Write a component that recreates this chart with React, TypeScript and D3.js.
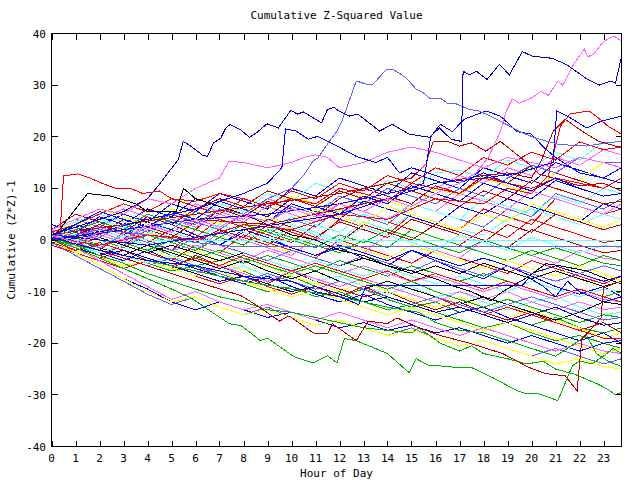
import React from 'react';
import * as d3 from 'd3';

// ---------- axes / labels ----------
const TITLE = 'Cumulative Z-Squared Value';
const X_LABEL = 'Hour of Day';
const Y_LABEL = 'Cumulative (Z*Z)-1';
const X_TICKS = d3.range(0, 24);
const Y_TICKS = [-40, -30, -20, -10, 0, 10, 20, 30, 40];
const X_DOMAIN: [number, number] = [0, 23.75];
const Y_DOMAIN: [number, number] = [-40, 40];

// ---------- palette ----------
const PALETTE: Record<string, string> = {
  R: '#ff0000', G: '#00b000', B: '#0000ff', DB: '#0000c0', LB: '#6060ff',
  M: '#ff60ff', C: '#60ffff', Y: '#ffff00', DR: '#c00000', K: '#000000',
};

// ---------- hourly series (values at HOURS) ----------
const HOURS = [0, 1, 2, 3, 4, 5, 6, 7, 8, 9, 10, 11, 12, 13, 14, 15, 16, 17, 18, 19, 20, 21, 22, 23, 23.75];

const L01 = [1, -0.5, -2, 1.5, 0, -2, 2, 0.5, -1, 3, 1.5, 0, 4, 2.5, 1, 5, 3.5, 2, 6, 4.5, 3, 8, 6.5, 5, 6];
const L02 = [2, 0.5, -1.5, -3, -1, -3, -5, -4, -6, -8, -7, -9, -11, -9.5, -11.5, -13, -12, -14, -13, -15, -16.5, -15, -17, -18, -17];
const L03 = [0, 3, 1.5, 0, 4.5, 3, 1, -1, 2, 0.5, -1.5, -3, -1.5, -3.5, -5, -2, -4, -6, -7.5, -5, -7, -9, -10.5, -9, -11];
const L04 = [3, 1.5, 4, 6, 4.5, 3, 7, 5.5, 4, 8, 6.5, 5, 4, 9, 7.5, 6, 10, 12.5, 11, 14, 12.5, 16, 14.5, 17.5, 16.5];
const L05 = [1, 2, 0.5, -1, -2.5, 0, -1.5, 2, 0.5, -1, 3, 1.5, 0, 3.5, 2, 5, 3.5, 2, 1, 4, 6, 4.5, 3, 5, 4];
const L06 = [-0.5, -2, -3.5, -2, -4, -5.5, -3, -5, -7, -8.5, -6, -8, -9.5, -11, -10, -12, -13.5, -12, -14, -15.5, -14, -16, -17.5, -16, -18];
const L07 = [0.5, -1, 1, -0.5, -2, -3.5, -2, -4, -6, -5, -7, -8.5, -10, -8, -10, -11.5, -13, -11, -13, -15, -13.5, -15.5, -17, -19, -18];
const L08 = [2, 4, 2.5, 5, 3.5, 2, 5.5, 4, 2.5, 1, 4, 2.5, 6, 4.5, 3, 7, 5.5, 4, 2.5, 6, 4.5, 9, 7.5, 6, 8];
const L09 = [-1, 1, 3, 5, 3.5, 7, 5.5, 9, 7.5, 6, 10, 8.5, 12, 10.5, 9, 13, 11.5, 10, 14, 12.5, 11, 15, 13.5, 12, 14];
const L10 = [0, -1.5, -3, -1, -2.5, -4, -1, -2.5, 1, -0.5, -2, -3.5, 0, -1.5, -3, -4.5, -2, -3.5, -5, -6.5, -4, -5.5, -7, -8.5, -7];
const L11 = [1.5, 0, -1.5, -3, -4.5, -6, -5, -7, -8.5, -10, -9, -11, -10, -12, -13.5, -12.5, -14, -15.5, -17, -16, -18, -19.5, -18.5, -20, -21];
const L12 = [0, 2, 0.5, -1, 1, -0.5, -2, 1.5, 0, -1.5, -3, 0.5, -1, -2.5, 1, -0.5, -2, -3.5, 0, -1.5, -3, -4.5, -2, -3.5, -4];
const L13 = [1, 3.5, 2, 0.5, 3, 6, 4.5, 3, 6.5, 5, 8.5, 7, 5.5, 9, 7.5, 6, 10, 8.5, 12, 10.5, 9, 13, 11.5, 15, 14];
const L14 = [-1, -2.5, -1, -3, -4.5, -3, -5, -6.5, -5, -7, -5.5, -8, -7, -9, -10.5, -9, -11, -10, -12, -13.5, -12, -11, -13, -14.5, -14];
const L15 = [0.5, -1, -2.5, -4, -2, -4, -5.5, -7, -8.5, -7, -9, -10.5, -12, -10.5, -12.5, -14, -15.5, -14, -13, -15, -16.5, -18, -19.5, -18, -20];
const L16 = [2, 5, 3.5, 2, 5, 3.5, 2, 6, 4.5, 7.5, 6, 4.5, 8, 10, 8.5, 7, 10.5, 9, 12.5, 11, 14.5, 13, 11.5, 10, 12];
const L17 = [0, -2, -1, 1, -0.5, 2, 0.5, 4, 2.5, 1, -0.5, 3, 1.5, 5, 3.5, 2, 0.5, -1, 2, 0.5, 4, 2.5, 1, -0.5, 0];
const L18 = [-0.5, -3, -5.5, -8, -10.5, -12.5, -11, -13, -14.5, -13, -15, -16.5, -15.5, -17, -18.5, -17, -19, -20.5, -19.5, -21, -22.5, -21, -22.5, -24, -23];
const L19 = [0, 1.5, 0, -1.5, 1, -0.5, -2, 0.5, -1, 2, 0.5, -1, -2.5, 0, -1.5, 2, 0.5, -1, -2.5, -4, -2, -3.5, -5, -3, -4];
const L20 = [3, 1.5, 4.5, 3, 6, 4.5, 8, 6.5, 5, 3.5, 7, 5.5, 4, 7.5, 6, 4.5, 3, 6.5, 5, 8, 6.5, 5, 3.5, 7, 6];
const L21 = [-1, -2.5, -4, -2, -3.5, -5, -6.5, -5, -6.5, -8, -6, -7.5, -9, -7.5, -9, -10.5, -12, -10, -11.5, -10, -12, -13.5, -12, -13.5, -13];
const L22 = [0, 2, 0.5, 3, 1.5, 0, 3.5, 2, 0.5, -1, -2.5, 1, -0.5, -2, -3.5, -1, -2.5, -4, -5.5, -4, -5.5, -7, -5, -6.5, -8];
const L23 = [1, 0, -1.5, -3, -1, -2.5, -4, -5.5, -4, -6, -7.5, -6, -8, -9.5, -8, -9.5, -11, -12.5, -11, -12.5, -14, -15.5, -14, -12, -12.5];
const L24 = [2, 3.5, 5, 3.5, 2, 5.5, 4, 7, 5.5, 9, 7.5, 11, 9.5, 8, 11.5, 10, 13, 13.5, 12, 15.5, 14, 17, 15.5, 19, 18];
const L25 = [0.5, -1, 0.5, -1, 2, 0.5, 3.5, 2, 0.5, 4, 2.5, 1, -0.5, 3, 1.5, 0, 3, 1.5, 0, -1.5, 2, 0.5, -1, -2.5, -2];
const L26 = [-1, -2.5, -4, -5.5, -4, -5.5, -7, -8.5, -7, -9, -10.5, -9, -11, -9, -11, -12.5, -11, -13, -14.5, -13, -14.5, -16, -17.5, -19, -19];
const L27 = [1, 2.5, 1, -0.5, -2, 0, -1.5, -3, -4.5, -3, -4.5, -6, -4, -5.5, -7, -5, -6.5, -8, -6.5, -8, -9.5, -11, -9.5, -11, -10];
const L28 = [-0.5, 1, 2.5, 1, 3.5, 2, 0.5, -1, 1.5, 0, -1.5, -3, -1, -2.5, -4, -2, -3.5, -5, -3.5, -5, -6.5, -5, -6.5, -8, -7];
const L29 = [0, -1, 1.5, 0, 2.5, 5, 3.5, 2, 5, 3.5, 6.5, 5, 8.5, 7, 10, 8.5, 7, 10, 8.5, 12, 14.5, 13, 16, 15, 15];
const L30 = [2, 0.5, 2.5, 1, -0.5, -2, -1, -2.5, -4, -2, -3.5, -5, -6.5, -5, -6.5, -8, -7, -8.5, -10, -8.5, -10, -11.5, -10, -11.5, -12];
const L31 = [-0.5, -2, -3.5, -5, -4, -5.5, -7, -6, -8, -9.5, -11, -10, -11.5, -13, -14.5, -13, -14.5, -16, -17.5, -16, -17.5, -19, -20.5, -22, -21];
const L32 = [0.5, -1, -2.5, -1, -2.5, -1, -2.5, -4, -2.5, -4, -5.5, -4, -5.5, -7, -5.5, -7, -8.5, -7, -8.5, -10, -8, -9.5, -11, -9.5, -10];
const L33 = [1.5, 3, 5, 7, 5.5, 8, 6.5, 5, 8, 6.5, 9.5, 8, 11, 9.5, 12.5, 11, 14, 12.5, 16, 14.5, 17, 15.5, 19, 17.5, 18];
const L34 = [0, -2.5, -5, -7.5, -9.5, -12, -13.5, -12, -13.5, -15, -14, -15.5, -17, -16, -17.5, -16.5, -18, -17, -18.5, -20, -18.5, -20, -21.5, -20, -19.5];
const L35 = [1, 2.5, 1, 4, 2.5, 1, -0.5, 2, 0.5, -1, 2, 0.5, 3.5, 2, 0.5, 4, 2.5, 1, -0.5, 3, 1.5, 5, 3.5, 2, 3];
const L36 = [-1, 0.5, -1, 1, -0.5, -2, -3.5, -2, -3.5, -5, -6.5, -5, -6.5, -8, -9.5, -8, -10, -11.5, -13, -11.5, -13, -14.5, -16, -14.5, -15];
const L37 = [0, -1.5, 1, -0.5, 2, 4, 2.5, 5, 3.5, 6.5, 5, 3.5, 7, 5.5, 4, 7, 5.5, 9, 7.5, 6, 9.5, 8, 6.5, 5, 7];
const L38 = [0.5, 2, 0.5, -1, -2.5, -1, -2.5, -4, -2.5, -4, -2, -3.5, -5, -3.5, -5, -6.5, -5, -6.5, -4.5, -6, -7.5, -6, -7.5, -9, -8];
const L39 = [1, -0.5, -2, -3.5, -5, -3.5, -5, -6.5, -8, -6.5, -8, -9.5, -8, -9.5, -11, -12.5, -11, -12.5, -14, -12.5, -11, -12.5, -14, -15.5, -15];
const L40 = [2, 4, 6, 4.5, 3, 6, 4.5, 3, 1.5, 4.5, 3, 6, 4.5, 3, 6.5, 5, 3.5, 2, 5, 3.5, 7, 5.5, 4, 2.5, 4];
const L41 = [0, 2.5, 4, 2.5, 1, 3.5, 2, 0.5, 3, 1.5, 4.5, 3, 1.5, 5, 3.5, 7, 5.5, 4, 8, 6.5, 5, 8.5, 7, 10, 9];
const L42 = [-0.5, -2, -0.5, -2, -3.5, -5, -3.5, -5, -3, -4.5, -6, -4.5, -6, -7.5, -6, -8, -6.5, -8, -9.5, -8, -9.5, -11, -9.5, -11, -12];
const L43 = [1, 3, 5.5, 4, 2.5, 5.5, 4, 7.5, 6, 4.5, 8, 6.5, 5, 8.5, 7, 10.5, 9, 7.5, 11, 9.5, 8, 11.5, 10, 8.5, 9];
const L44 = [0, -1.5, -3, -2, -3.5, -5, -6.5, -8, -7, -8.5, -10, -9, -10.5, -12, -11, -12.5, -14, -13, -14.5, -16, -14.5, -13, -15, -16.5, -16];
const L45 = [0.5, 2, 3.5, 2, 5, 3.5, 2, 0.5, 3, 1.5, 0, -1.5, 1, -0.5, 2, 0.5, -1, -2.5, 0, -1.5, -3, -1.5, -3, -4.5, -5];
const L46 = [1, -1.5, -4, -6.5, -9, -11.5, -10, -12, -13.5, -12.5, -14, -15.5, -14, -15.5, -17, -15.5, -17, -18.5, -17, -18.5, -20, -21.5, -20, -21.5, -22];
const L47 = [-0.5, 1, 3, 1.5, 4.5, 3, 6, 8, 6.5, 9.5, 8, 6.5, 9.5, 8, 11, 9.5, 8, 6.5, 9.5, 8, 11.5, 10, 8.5, 7, 7.5];
const L48 = [0, -2.5, -5, -7.5, -10, -12, -11, -13, -14.5, -13.5, -15, -16.5, -15.5, -17, -18.5, -17.5, -19, -20.5, -19.5, -21, -22.5, -24, -23, -24.5, -25];
const L49 = [1.5, 0, -1.5, 1, -0.5, -2, 0.5, -1, -2.5, -4, -2, -3.5, -5, -3, -4.5, -6, -4, -5.5, -7, -5, -6.5, -8, -6.5, -5, -6];
const L50 = [-1, 0.5, 2, 0.5, -1, 1.5, 0, 3, 1.5, 0, 2.5, 1, -0.5, 2.5, 1, -0.5, -2, 1, -0.5, -2, 0.5, -1, -2.5, -1, -1.5];

const HOURLY_SERIES = [L01, L02, L03, L04, L05, L06, L07, L08, L09, L10, L11, L12, L13, L14, L15, L16, L17, L18, L19, L20,
  L21, L22, L23, L24, L25, L26, L27, L28, L29, L30, L31, L32, L33, L34, L35, L36, L37, L38, L39, L40,
  L41, L42, L43, L44, L45, L46, L47, L48, L49, L50];
const HOURLY_COLORS = ['R', 'G', 'B', 'M', 'C', 'DR', 'Y', 'LB', 'B', 'R', 'G', 'M', 'Y', 'C', 'B', 'DR', 'R', 'LB', 'G', 'B',
  'M', 'Y', 'K', 'C', 'DR', 'R', 'G', 'B', 'LB', 'M', 'Y', 'C', 'R', 'B', 'DR', 'G', 'M', 'K', 'LB', 'Y',
  'C', 'R', 'B', 'DB', 'G', 'M', 'DR', 'Y', 'LB', 'C'];

// ---------- distinct series read at their own times: [hour, value] ----------
const TOP_BLUE = [[0, 1], [1, 2.5], [2, 4], [3, 5.5], [4, 8], [4.5, 10.8], [5.28, 15.6], [5.49, 19.1], [5.8, 18.2], [6.3, 16.4], [6.5, 16.2], [6.75, 18.8], [7.05, 19.7], [7.25, 21.6], [7.44, 22.4], [7.86, 21.4], [8.25, 19.9], [8.55, 20.8], [8.98, 22.5], [9.45, 21.7], [9.97, 25.1], [10.25, 24.4], [10.5, 24.8], [11.25, 22.7], [11.5, 25.3], [11.76, 25.7], [12.0, 24.9], [12.43, 24], [12.76, 24.4], [13.67, 21.1], [14.2, 22.4], [14.9, 20.5], [15.75, 19.9], [16.17, 21.7], [16.65, 19.5], [17.08, 19.1], [17.15, 32.7], [17.42, 32], [17.7, 32.7], [18.15, 31.1], [18.66, 34], [19.08, 32], [19.62, 36.5], [20.03, 35.6], [20.86, 35.2], [21.45, 34], [22.28, 31.3], [22.82, 30], [23.3, 30.8], [23.5, 30.4], [23.75, 35.5]];
const TOP_MAGENTA = [[0, 1], [1, -0.5], [2, 1.5], [3, 0], [4, 3], [5, 1.5], [6, 4], [7, 2.5], [8, 5], [9, 3.5], [10, 6], [11, 4.5], [12, 7], [13, 5.5], [14, 8], [15, 6.5], [16, 9], [17, 11], [17.7, 13], [18.2, 16], [18.7, 21], [18.95, 25], [19.2, 27.3], [19.5, 26.5], [20, 27.5], [20.4, 28.8], [20.7, 28], [21.1, 30.8], [21.3, 30], [21.75, 34], [22.2, 37], [22.35, 35.5], [22.6, 36], [22.9, 37.9], [23.2, 39], [23.45, 39.5], [23.75, 38.5]];
const PEAK_LIGHTBLUE = [[0, 0.5], [1, 2], [2, 0.5], [3, 3], [4, 1.5], [5, 4], [6, 3], [7, 6], [8, 5], [9, 8], [10, 10], [10.5, 12.5], [10.9, 15.3], [11.1, 15.9], [11.5, 18.6], [11.9, 21.1], [12.1, 23], [12.4, 26.9], [12.7, 30.8], [13.1, 30.2], [13.4, 30.2], [13.96, 33.1], [14.2, 33.1], [14.5, 32.3], [14.8, 31.3], [15.2, 29.2], [15.5, 28.5], [15.75, 27.5], [16.2, 27.5], [16.5, 26.5], [16.8, 26.5], [17.4, 25.3], [17.8, 25], [18.1, 24.4], [18.95, 22.4], [19.5, 21], [20.2, 19.7], [21.15, 18.5], [22.3, 18.2], [23.1, 18.8], [23.75, 19.1]];
const JUMP_BLUE_A = [[0, 0], [2, 1.5], [4, 4], [6, 6], [8, 9], [9, 11], [9.6, 14], [9.75, 21.5], [10.2, 21.1], [10.7, 19.5], [11.1, 20.1], [11.5, 19.1], [11.9, 18.2], [12.3, 17.2], [12.7, 16.2], [13.5, 15], [14, 16], [14.5, 13], [15, 14], [16, 12.5], [17, 11], [18, 13], [19, 11], [20, 9.5], [21, 12], [22, 10], [23, 8.5], [23.75, 9]];
const JUMP_BLUE_B = [[0, -0.5], [3, 2], [6, 4], [9, 5], [12, 7], [15, 10], [15.5, 11], [15.8, 20], [16.2, 22.4], [16.7, 21], [17.2, 23.4], [18.1, 25], [18.7, 24], [19.4, 21], [20, 20.5], [20.5, 18], [21, 16], [21.5, 14.5], [22, 13], [23, 12], [23.75, 11]];
const JUMP_BLUE_C = [[0, 1], [4, -1], [8, 2], [12, 5], [14, 8], [16, 11], [18, 12], [19.5, 13], [20.5, 14.5], [20.9, 15], [21.05, 25], [21.5, 24], [22.3, 21.7], [22.9, 23], [23.75, 24]];
const PEAK_RED = [[0, 0.5], [2, -1], [4, 1], [6, 0], [8, 3], [10, 2], [12, 5], [14, 4], [16, 8], [18, 7], [19, 10], [20, 9], [20.7, 12.5], [21.2, 22], [21.6, 24.4], [22.4, 25], [22.8, 23.6], [23.2, 22], [23.75, 20.5]];
const HIGH_DARKRED_A = [[0, 1], [3, 3], [6, 5], [9, 7], [12, 9], [14, 11], [15, 12], [15.6, 14.7], [15.9, 19.1], [16.5, 19.1], [17, 18.2], [17.5, 18.8], [18.1, 17.2], [18.7, 19.1], [19.9, 14.7], [20.3, 12.8], [20.9, 12], [22, 10.5], [23, 11], [23.75, 9.5]];
const HIGH_DARKRED_B = [[0, 0], [3, 2], [6, 4], [9, 3], [12, 6], [14, 8], [16, 11], [18, 12.5], [19, 13], [20, 12], [20.4, 15.3], [20.9, 21], [21.4, 23.4], [22.1, 21.1], [22.8, 19.1], [23.5, 18.2], [23.75, 18]];
const MID_MAGENTA = [[0, 2], [1, 4], [2, 6], [3, 5], [4, 8], [5, 7], [6, 10], [7, 12], [7.4, 15.3], [8, 15], [9, 14], [10, 15], [10.5, 16], [11, 16.5], [11.5, 16], [12, 14], [13, 15], [14, 17], [15, 18], [16, 17], [17, 15.5], [18, 14], [19, 16], [20, 15], [21, 14], [22, 16], [23, 15], [23.75, 14]];
const EARLY_RED = [[0, 0], [0.35, 1], [0.5, 12.4], [1.1, 12.8], [1.6, 12], [2.2, 10.8], [2.7, 10], [3.3, 10], [3.8, 9], [4.5, 9.5], [5, 8], [6, 7.5], [7, 9], [8, 8], [9, 6.5], [10, 8], [11, 7], [12, 10], [13, 9], [14, 7.5], [15, 11], [16, 10], [17, 9], [18, 12], [19, 11], [20, 10], [21, 12], [22, 11], [23, 10], [23.75, 12]];
const BLACK_A = [[0, 0], [0.5, 3], [1.5, 9], [2.5, 8.5], [3.5, 7], [4, 5.5], [5.2, 5.6], [5.5, 10], [6, 8], [7, 6.5], [8, 5], [9, 3], [10, 1], [11, 0], [12, -2], [13, -3], [14, -5], [15, -6], [16, -7.5], [16.8, -9], [17.5, -10], [18.3, -11.8], [18.8, -10], [19.8, -7.3], [20.6, -4.6], [21.2, -5], [22.3, -6], [23, -7.3], [23.75, -8.5]];
const LOW_DARKRED = [[0, 0.5], [2, -2], [4, -5], [6, -8], [7.9, -10.8], [8.5, -12.5], [9.5, -15.7], [9.9, -14.7], [10.3, -16], [10.9, -18], [11.5, -18.2], [11.7, -16.2], [12.7, -19.5], [13.2, -15.7], [14, -16.2], [14.4, -15.1], [15.3, -17], [16.2, -18.5], [17.5, -20.1], [18.8, -22], [19.9, -24.7], [20.6, -25.9], [21.4, -26.3], [21.9, -29.2], [22.1, -19.1], [22.5, -17.2], [22.9, -15.1], [23.0, -9.3], [23.5, -8.3], [23.75, -8]];
const LOW_GREEN_A = [[0, 0], [1, -1.5], [2, -3.5], [3, -5.5], [4, -7.5], [5, -9.5], [5.8, -11.2], [6.6, -13.7], [7.4, -16.2], [7.9, -16.6], [8.3, -18], [8.7, -19.5], [9.0, -19], [10.1, -22.6], [10.9, -23.8], [11.5, -22.4], [11.9, -23.8], [12.2, -19.1], [12.7, -19.5], [14.0, -22], [14.9, -25.7], [15.2, -23], [15.75, -24.4], [16.2, -24.4], [16.9, -24.7], [17.5, -24.7], [18.4, -26.7], [19.4, -29.2], [19.8, -29.8], [20.3, -29.8], [21.1, -31.1], [21.7, -24.4], [22, -23.4], [22.5, -24], [23, -22.5], [23.4, -21], [23.75, -22]];
const LOW_GREEN_B = [[0, 0.5], [1, -1], [2, -3], [3, -4.5], [4, -6.5], [5, -8], [6, -9.5], [7, -11], [8, -12], [9, -13.5], [10, -14], [11, -15], [12, -16], [13, -17], [14, -17.5], [15, -18], [15.3, -17], [16.2, -20], [17, -21.5], [17.5, -20.5], [18, -22], [19, -23], [19.8, -24], [20.5, -23.5], [21, -25], [21.8, -26], [22.3, -27], [22.8, -28], [23.2, -29], [23.5, -30], [23.75, -29.5]];
const LOW_GREEN_C = [[0, 0], [2, -2], [4, -4], [6, -6], [8, -8], [10, -9.5], [12, -11], [14, -13], [15.3, -14], [16, -16], [17, -17.5], [18, -18], [19, -19.5], [20, -21], [21, -22.5], [21.5, -21], [22.3, -18.5], [22.7, -22], [23.2, -23.5], [23.75, -24.5]];
const FLAT_BLUE = [[0, 0.5], [2, -2], [4, -4], [6, -5], [8, -7], [10, -8], [11, -10], [12, -11], [12.8, -12.5], [13.1, -8.9], [19.6, -8.9], [19.9, -7.3], [20.5, -9], [21, -11], [21.5, -8], [22, -10], [23, -12], [23.75, -11]];
const FLAT_CYAN = [[0, 1], [1, 0], [2, -1], [3, 1], [4, 0], [4.5, -0.1], [23.75, -0.1]];
const FLAT_LIGHTBLUE = [[0, 0], [2, 2], [4, 1], [6, -0.5], [7.5, -1.2], [23.75, -1.2]];

const FEATURED = [
  { pts: FLAT_CYAN, c: 'C' }, { pts: FLAT_LIGHTBLUE, c: 'LB' },
  { pts: MID_MAGENTA, c: 'M' }, { pts: EARLY_RED, c: 'R' }, { pts: BLACK_A, c: 'K' },
  { pts: HIGH_DARKRED_A, c: 'DR' }, { pts: HIGH_DARKRED_B, c: 'DR' }, { pts: PEAK_RED, c: 'R' },
  { pts: JUMP_BLUE_A, c: 'B' }, { pts: JUMP_BLUE_B, c: 'B' }, { pts: JUMP_BLUE_C, c: 'B' },
  { pts: LOW_GREEN_C, c: 'G' }, { pts: LOW_GREEN_B, c: 'G' }, { pts: LOW_GREEN_A, c: 'G' },
  { pts: LOW_DARKRED, c: 'DR' }, { pts: FLAT_BLUE, c: 'B' },
  { pts: PEAK_LIGHTBLUE, c: 'LB' }, { pts: TOP_MAGENTA, c: 'M' }, { pts: TOP_BLUE, c: 'DB' },
];

const FONT = '"DejaVu Sans Mono", "Liberation Mono", monospace';

export default function App() {
  const x = d3.scaleLinear().domain(X_DOMAIN).range([51.5, 621.5]);
  const y = d3.scaleLinear().domain(Y_DOMAIN).range([446.5, 33.5]);
  const line = d3.line<number[]>().x((d) => x(d[0])).y((d) => y(d[1]));
  const hourly = HOURLY_SERIES.map((vals, i) => ({
    d: line(vals.map((v, j) => [HOURS[j], v])) || '',
    c: PALETTE[HOURLY_COLORS[i]],
  }));
  const featured = FEATURED.map((f) => ({ d: line(f.pts) || '', c: PALETTE[f.c] }));
  const [xl, xr] = x.range();
  const [yb, yt] = y.range();
  const T = 6;
  return (
    <svg width={640} height={480} style={{ position: 'absolute', left: 0, top: 0, background: '#fff' }}
      fontFamily={FONT} fontSize={11}>
      <rect x={0} y={0} width={640} height={480} fill="#fff" />
      <g fill="none" strokeWidth={1} shapeRendering="crispEdges">
        {hourly.map((p, i) => <path key={'h' + i} d={p.d} stroke={p.c} />)}
        {featured.map((p, i) => <path key={'f' + i} d={p.d} stroke={p.c} />)}
      </g>
      <g stroke="#000" strokeWidth={1} shapeRendering="crispEdges" fill="none">
        <rect x={xl} y={yt} width={xr - xl} height={yb - yt} />
        {X_TICKS.map((t) => (
          <g key={'xt' + t}>
            <line x1={Math.round(x(t)) + 0.5} x2={Math.round(x(t)) + 0.5} y1={yb} y2={yb - T} />
            <line x1={Math.round(x(t)) + 0.5} x2={Math.round(x(t)) + 0.5} y1={yt} y2={yt + T} />
          </g>
        ))}
        {Y_TICKS.map((t) => (
          <g key={'yt' + t}>
            <line x1={xl} x2={xl + T} y1={y(t)} y2={y(t)} />
            <line x1={xr} x2={xr - T} y1={y(t)} y2={y(t)} />
          </g>
        ))}
      </g>
      <g fill="#000">
        {X_TICKS.map((t) => (
          <text key={'xl' + t} x={x(t)} y={462} textAnchor="middle">{t}</text>
        ))}
        {Y_TICKS.map((t) => (
          <text key={'yl' + t} x={46} y={y(t) + 4} textAnchor="end">{t}</text>
        ))}
        <text x={(xl + xr) / 2} y={19} textAnchor="middle">{TITLE}</text>
        <text x={(xl + xr) / 2} y={477} textAnchor="middle">{X_LABEL}</text>
        <text transform={`translate(15, ${(yt + yb) / 2}) rotate(-90)`} textAnchor="middle">{Y_LABEL}</text>
      </g>
    </svg>
  );
}
